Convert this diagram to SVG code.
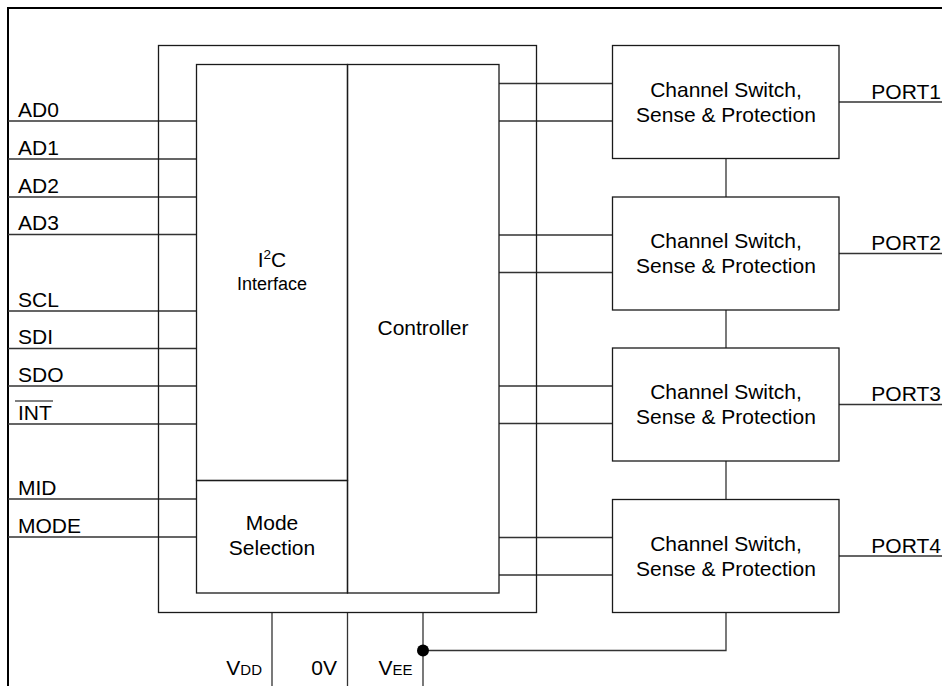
<svg xmlns="http://www.w3.org/2000/svg" width="942" height="686" viewBox="0 0 942 686">
<style>
  .box { fill: none; stroke: #1a1a1a; stroke-width: 1.3; }
  .ln { fill: none; stroke: #333; stroke-width: 1.3; }
  text { font-family: "Liberation Sans", Arial, sans-serif; font-size: 21px; fill: #000; }
  .c { text-anchor: middle; }
  .e { text-anchor: end; }
  .sm { font-size: 18px; }
</style>
<rect x="0" y="0" width="942" height="686" fill="#fff"/>
<g id="frame">
  <path d="M8 686 V8 H942" fill="none" stroke="#000" stroke-width="2"/>
</g>
<g id="connectors">
  <path class="ln" d="M8 121 H196.5 M8 159 H196.5 M8 197 H196.5 M8 234.5 H196.5 M8 311 H196.5 M8 348.5 H196.5 M8 386 H196.5 M8 424 H196.5 M8 499 H196.5 M8 537 H196.5"/>
  <path class="ln" d="M499 83.5 H612.5 M499 121 H612.5 M499 235 H612.5 M499 272.5 H612.5 M499 386 H612.5 M499 423.5 H612.5 M499 537.5 H612.5 M499 575 H612.5"/>
  <path class="ln" d="M726 158.5 V197 M726 310 V348 M726 461 V499.5"/>
  <path class="ln" d="M726 612.5 V650.5 H423"/>
  <path class="ln" d="M272 612.5 V686 M347.5 612.5 V686 M423 612.5 V686"/>
  <circle cx="423" cy="650.5" r="6" fill="#000"/>
  <path class="ln" d="M839 102 H942 M839 253.5 H942 M839 404.5 H942 M839 556 H942"/>
</g>
<g id="chip">
  <rect class="box" x="158.5" y="45.5" width="378" height="567"/>
</g>
<g id="i2c">
  <rect class="box" x="196.5" y="64.5" width="151" height="416"/>
  <text class="c" x="272" y="266.5">I<tspan font-size="13.5" dy="-8">2</tspan><tspan dy="8">C</tspan></text>
  <text class="c sm" x="272" y="290">Interface</text>
</g>
<g id="mode">
  <rect class="box" x="196.5" y="480.5" width="151" height="112.5"/>
  <text class="c" x="272" y="530">Mode</text>
  <text class="c" x="272" y="555">Selection</text>
</g>
<g id="controller">
  <rect class="box" x="347.5" y="64.5" width="151.5" height="528.5"/>
  <text class="c" x="423" y="335">Controller</text>
</g>
<g id="ch1">
  <rect class="box" x="612.5" y="45.5" width="226.5" height="113"/>
  <text class="c" x="726" y="96.5">Channel Switch,</text>
  <text class="c" x="726" y="121.5">Sense &amp; Protection</text>
</g>
<g id="ch2">
  <rect class="box" x="612.5" y="197" width="226.5" height="113"/>
  <text class="c" x="726" y="248">Channel Switch,</text>
  <text class="c" x="726" y="273">Sense &amp; Protection</text>
</g>
<g id="ch3">
  <rect class="box" x="612.5" y="348" width="226.5" height="113"/>
  <text class="c" x="726" y="399">Channel Switch,</text>
  <text class="c" x="726" y="424">Sense &amp; Protection</text>
</g>
<g id="ch4">
  <rect class="box" x="612.5" y="499.5" width="226.5" height="113"/>
  <text class="c" x="726" y="550.5">Channel Switch,</text>
  <text class="c" x="726" y="575.5">Sense &amp; Protection</text>
</g>
<g id="pins">
  <text x="18" y="116.5">AD0</text>
  <text x="18" y="154.5">AD1</text>
  <text x="18" y="192.5">AD2</text>
  <text x="18" y="230">AD3</text>
  <text x="18" y="306.5">SCL</text>
  <text x="18" y="344">SDI</text>
  <text x="18" y="381.5">SDO</text>
  <text x="18" y="419.5">INT</text>
  <line x1="15" y1="401" x2="53" y2="401" stroke="#555" stroke-width="1.3"/>
  <text x="18" y="494.5">MID</text>
  <text x="18" y="532.5">MODE</text>
  <text class="e" x="941" y="98.5">PORT1</text>
  <text class="e" x="941" y="250">PORT2</text>
  <text class="e" x="941" y="401">PORT3</text>
  <text class="e" x="941" y="552.5">PORT4</text>
  <text class="e" x="262" y="675">V<tspan font-size="15">DD</tspan></text>
  <text class="e" x="337" y="675">0V</text>
  <text class="e" x="412.5" y="675">V<tspan font-size="15">EE</tspan></text>
</g>
</svg>
